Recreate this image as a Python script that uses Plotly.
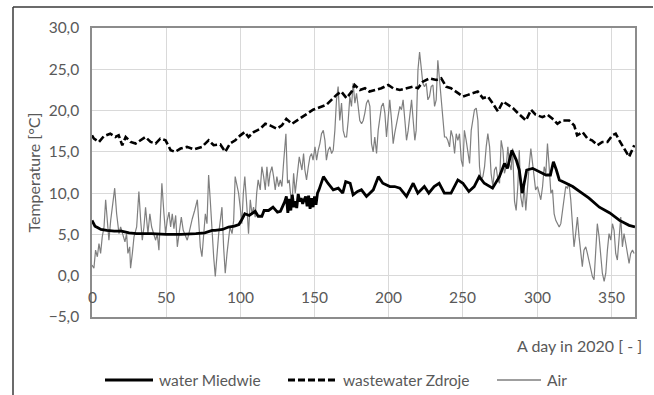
import plotly.graph_objects as go

# ---------------- data ----------------
x_ticks = [0, 50, 100, 150, 200, 250, 300, 350]
y_ticks = [-5, 0, 5, 10, 15, 20, 25, 30]

water_days = [
    0, 2, 4, 6, 10, 15, 20, 25, 30, 40,
    50, 60, 70, 76, 81, 83, 88, 92, 96, 99,
    101, 103, 106, 110, 112, 114.5, 116, 119, 122, 125,
    127, 129, 130, 131, 132, 133, 134, 135, 136, 137,
    138, 139, 140, 141, 142, 143, 144, 145, 146, 147,
    148, 149, 150, 151, 152, 153, 154, 156, 159, 162.6,
    166, 169, 171, 174, 176, 179, 181.6, 185, 189.6, 193,
    196, 200.8, 204, 207.5, 212, 216.5, 219.6, 224, 227, 230.6,
    234, 237.5, 242, 246.6, 250, 254, 257.6, 261, 264.4, 270,
    274.6, 278, 280, 283, 286, 288, 290, 293, 297, 301,
    306, 309, 311, 313, 315, 319.6, 324, 328.6, 335, 342,
    349, 355.6, 362, 366,
]
water_temp = [
    6.7, 6.0, 5.8, 5.6, 5.5, 5.4, 5.4, 5.2, 5.1, 5.1,
    5.0, 5.0, 5.1, 5.2, 5.5, 5.5, 5.6, 5.9, 6.0, 6.2,
    6.8, 7.5, 7.3, 7.8, 7.2, 7.2, 7.9, 7.9, 8.3, 7.7,
    7.8, 8.5, 9.0, 9.6, 7.6, 9.3, 7.9, 9.8, 8.3, 9.0,
    8.2, 9.9, 9.0, 9.4, 8.7, 9.2, 9.6, 8.4, 9.7, 8.1,
    9.4, 8.3, 9.6, 8.6, 10.0, 10.4, 11.0, 12.0, 11.2, 10.4,
    10.6, 10.0, 11.4, 11.2, 9.8, 10.2, 10.4, 9.6, 10.4, 12.0,
    11.2, 10.8, 10.8, 10.6, 9.6, 11.2, 10.0, 10.8, 10.0, 10.8,
    11.2, 10.0, 10.0, 11.6, 11.2, 10.2, 10.8, 12.0, 11.2, 10.6,
    12.0, 13.6, 13.0, 15.2, 14.0, 12.8, 10.0, 12.8, 13.0, 12.6,
    12.2, 12.2, 13.8, 12.8, 11.6, 11.2, 10.8, 10.2, 9.4, 8.3,
    7.6, 6.7, 6.1, 5.9,
]

waste_days = [
    0, 1.3, 4.7, 8, 12.3, 15.7, 18, 20.4, 22.7, 26,
    29.4, 32.8, 36, 39.5, 42.9, 46, 49.6, 53, 56, 59.7,
    64, 68.7, 74, 78.6, 82, 86.5, 89.8, 93, 96.6, 100,
    103, 105.5, 109, 113.4, 116.8, 120, 124.6, 128, 131, 134.8,
    138, 141.5, 145.8, 149, 153.6, 158, 161.4, 164.8, 168, 171.6,
    175, 177, 180.6, 184, 187, 190.7, 195, 199.7, 203, 207.5,
    212, 216.5, 219.7, 223, 227.5, 232, 235.4, 238.7, 242, 246.6,
    250, 253.4, 256.7, 260, 263.5, 266.8, 270, 273.6, 277, 280,
    283.7, 287, 290.4, 292.5, 296, 299, 303.6, 307, 310.4, 313.7,
    317, 321.6, 325, 327, 330.6, 334, 337, 340.7, 344, 347.4,
    350.8, 353, 355.4, 358.7, 362, 365.5,
]
waste_temp = [
    17.0, 16.6, 16.2, 16.9, 17.2, 16.8, 17.0, 15.8, 16.8, 16.2,
    16.0, 16.4, 16.8, 16.2, 16.0, 16.6, 16.4, 15.2, 15.0, 15.4,
    15.6, 15.3, 15.6, 16.4, 15.8, 15.9, 15.0, 16.0, 16.4, 17.0,
    17.4, 16.8, 17.4, 17.8, 18.4, 18.2, 17.8, 18.2, 19.0, 18.4,
    18.8, 19.2, 19.7, 20.1, 20.4, 20.7, 21.3, 21.9, 22.3, 21.5,
    22.3, 23.1, 22.5, 22.7, 22.3, 22.5, 22.7, 23.1, 22.7, 22.5,
    22.7, 22.9, 22.7, 23.5, 23.9, 23.7, 23.9, 22.9, 22.7, 22.1,
    21.7, 21.9, 22.1, 22.3, 21.5, 21.7, 20.9, 19.9, 21.1, 20.7,
    20.3, 19.7, 19.2, 18.8, 20.1, 19.5, 19.2, 19.5, 19.0, 18.4,
    18.8, 18.8, 18.2, 17.0, 17.4, 16.6, 16.4, 15.8, 16.2, 16.2,
    17.0, 17.2, 16.4, 15.4, 14.4, 15.8,
]

air_days = [
    0, 1.3, 2.4, 3.6, 4.7, 5.8, 6.9, 8.1, 9.2, 10.3,
    11.4, 12.6, 13.7, 15.3, 16.6, 18.2, 19.3, 21.1, 22.2, 23.3,
    24.2, 25.4, 26, 27.2, 28.3, 30.1, 31.6, 32.8, 33.9, 35,
    36.1, 37.7, 39, 40.2, 41.8, 42.9, 44, 45.1, 45.8, 47.1,
    48.5, 49.6, 50.7, 51.9, 53, 54.1, 55.2, 56.4, 57.5, 58.6,
    60.2, 61.5, 62.6, 64.2, 65.3, 66.5, 67.6, 69.2, 71, 71.9,
    73, 74.1, 75.2, 76.4, 77.5, 78.6, 79.7, 80.9, 82, 83.1,
    84.2, 85.4, 86.5, 87.6, 88.7, 89.8, 91, 92, 93, 94.4,
    95.5, 96.5, 97.7, 98.8, 99.9, 101, 102, 103, 104.4, 105.5,
    106.7, 107.8, 108.9, 110, 111, 112, 113.4, 114.5, 115.7, 116.8,
    117.9, 119, 120, 121.3, 122.4, 123.5, 124.6, 125.8, 126.9, 128,
    129.1, 130.7, 131.8, 132.9, 134.7, 135.9, 137, 138, 139.7, 141.5,
    142.6, 143.5, 144.6, 145.8, 146.9, 148, 149, 150.3, 151.4, 152.5,
    153.6, 154.7, 155.9, 157, 158, 159.2, 160.4, 161.5, 162.6, 163.7,
    164.8, 165.9, 167, 168.2, 169.3, 170.4, 171.6, 172.7, 173.8, 174.9,
    176, 177.2, 178.3, 179.4, 180.5, 181.7, 182.8, 183.9, 185, 186.2,
    187.3, 188.4, 189.5, 190.6, 191.8, 192.9, 194, 195.1, 196.3, 197.4,
    198.5, 199.6, 200.7, 201.9, 203, 204, 205.2, 206.3, 207.5, 208.6,
    209.7, 210.9, 212, 213.1, 214.2, 215.4, 216.5, 217.6, 218.5, 219.7,
    220.8, 221.9, 223, 224.1, 225.3, 226.4, 227.5, 228.6, 229.8, 230.9,
    232, 233.1, 234.2, 235.4, 236.5, 237.6, 238.7, 239.8, 241, 242,
    243.2, 244.4, 245.5, 246.6, 247.7, 248.9, 250, 251, 252.2, 253.4,
    254.5, 255.6, 256.7, 257.8, 259, 260.1, 261.2, 262.3, 263.5, 264.6,
    265.7, 266.8, 268, 269, 270.2, 271.3, 272.4, 273.6, 274.7, 275.8,
    277, 278, 279.2, 280.3, 281.4, 282.5, 283.5, 284.8, 285.9, 287,
    288, 289, 290.2, 291.3, 292.4, 293.5, 294.6, 295.8, 296.9, 298,
    299, 300.3, 301.4, 302.5, 303.7, 304.8, 305.9, 307, 308, 309.3,
    310.4, 311.5, 312.6, 313.8, 314.9, 316, 317, 318.2, 319.3, 320.4,
    321.5, 322.7, 323.8, 324.9, 326, 327.2, 328.3, 329.4, 330.5, 331.6,
    332.8, 333.9, 335, 336.1, 337.3, 338.4, 339.5, 340.6, 341.8, 342.9,
    344, 345.2, 346.3, 347.4, 348.5, 349.7, 350.8, 351.9, 353, 354.1,
    355.3, 356.4, 357.5, 358.6, 359.8, 360.9, 362, 363.1, 364.3, 365.4,
]
air_temp = [
    1.3, 0.9, 3.1, 2.3, 3.9, 2.7, 4.7, 5.9, 9.2, 6.7,
    4.3, 6.7, 8.3, 10.6, 7.5, 5.1, 5.9, 4.7, 4.1, 5.1,
    2.7, 3.5, 0.9, 2.7, 4.7, 5.9, 10.2, 6.7, 4.3, 5.9,
    8.3, 5.1, 7.5, 5.9, 5.1, 4.3, 5.1, 3.1, 5.9, 11.2,
    7.5, 5.1, 6.7, 7.7, 5.9, 7.5, 5.7, 7.3, 3.5, 5.1,
    7.1, 5.5, 4.9, 4.3, 5.1, 6.3, 6.9, 7.9, 9.2, 6.7,
    3.5, 2.3, 4.7, 7.5, 6.3, 12.2, 9.2, 4.7, 2.3, -0.1,
    2.7, 5.1, 6.7, 8.3, 3.5, 0.3, 2.7, 4.7, 5.9, 5.1,
    6.7, 12.0, 10.8, 10.0, 8.3, 6.3, 10.0, 12.0, 8.3, 5.1,
    9.2, 7.5, 8.3, 7.1, 10.0, 11.6, 10.4, 13.2, 12.0, 10.4,
    13.2, 10.8, 12.4, 13.2, 12.0, 10.4, 12.0, 10.8, 11.6, 10.8,
    13.6, 17.2, 11.2, 11.6, 8.3, 12.4, 10.0, 12.0, 14.4, 12.8,
    14.8, 12.8, 11.6, 13.2, 14.4, 14.8, 14.0, 15.6, 14.0, 15.2,
    16.0, 17.2, 17.6, 16.4, 14.0, 15.2, 15.6, 14.8, 15.2, 17.6,
    21.3, 22.9, 18.8, 20.9, 17.6, 16.8, 16.8, 18.8, 21.7, 20.5,
    23.3, 20.9, 22.1, 20.5, 18.8, 18.4, 18.8, 19.7, 20.9, 21.3,
    20.5, 16.0, 15.0, 16.8, 14.8, 17.6, 18.8, 20.5, 20.9, 19.7,
    16.8, 18.8, 21.3, 18.8, 16.0, 17.2, 18.4, 19.3, 20.5, 20.1,
    21.3, 18.8, 16.4, 17.6, 19.7, 21.3, 18.8, 16.4, 17.6, 24.9,
    27.1, 24.9, 23.3, 22.9, 23.3, 21.3, 21.7, 22.9, 23.1, 20.5,
    21.3, 26.1, 23.7, 21.3, 18.8, 16.8, 16.8, 16.4, 15.6, 17.6,
    16.8, 14.8, 17.2, 16.4, 17.2, 14.0, 13.2, 17.6, 16.4, 14.8,
    13.6, 17.6, 18.8, 20.1, 20.3, 18.8, 13.2, 11.6, 12.0, 13.2,
    15.6, 17.2, 15.6, 12.4, 10.8, 12.8, 13.2, 11.6, 11.2, 16.4,
    15.2, 12.4, 13.2, 15.6, 13.5, 12.8, 15.4, 9.0, 7.9, 10.8,
    15.2, 9.6, 8.3, 10.8, 7.9, 10.8, 13.2, 15.4, 13.2, 12.0,
    10.4, 10.8, 10.0, 9.2, 10.8, 13.2, 12.4, 16.0, 13.6, 10.0,
    10.4, 7.5, 6.7, 6.3, 5.9, 6.3, 7.9, 9.2, 10.8, 10.6,
    11.2, 9.2, 6.7, 3.5, 5.1, 7.1, 4.7, 2.7, 1.1, 3.1,
    3.5, 2.7, 1.9, 1.1, -0.1, -0.5, 2.7, 6.3, 4.7, 2.7,
    0.3, -0.7, 0.3, 3.1, 5.1, 4.3, 6.3, 5.5, 2.7, 1.9,
    4.7, 7.1, 3.5, 5.1, 3.9, 2.7, 1.5, 2.7, 3.1, 2.7,
]

series_names = ["water Miedwie", "wastewater Zdroje", "Air"]
y_title = "Temperature [°C]"
x_title = "A day in 2020 [ - ]"

# ---------------- layout geometry (pixels of the 654x395 canvas) ----------------
W, H = 654, 395
PL, PR, PT, PB = 92, 635, 28, 317          # plot area edges


def px(xp):
    return (xp - PL) / (PR - PL)


def py(yp):
    return (PB - yp) / (PB - PT)


TXT = "#595959"
FONT = "Lato, 'Open Sans', sans-serif"
FS = 15.5
FT = 16

fig = go.Figure()
fig.add_trace(go.Scatter(x=air_days, y=air_temp, mode="lines", name=series_names[2],
                         line=dict(color="#7f7f7f", width=1.2)))
fig.add_trace(go.Scatter(x=waste_days, y=waste_temp, mode="lines", name=series_names[1],
                         line=dict(color="#000000", width=2.6, dash="7px,3px")))
fig.add_trace(go.Scatter(x=water_days, y=water_temp, mode="lines", name=series_names[0],
                         line=dict(color="#000000", width=2.8)))

fig.update_layout(
    width=W, height=H,
    margin=dict(l=PL, r=W - PR, t=PT, b=H - PB),
    paper_bgcolor="white", plot_bgcolor="white",
    separators=",.",
    showlegend=False,
    font=dict(family=FONT, size=FS, color=TXT),
)
fig.update_xaxes(range=[0, 366], tickvals=x_ticks, showticklabels=False,
                 showgrid=True, gridcolor="#d9d9d9", gridwidth=1,
                 zeroline=False, showline=True, linecolor="#8c8c8c", linewidth=1.5,
                 mirror=True, ticks="")
fig.update_yaxes(range=[-5, 30], tickvals=y_ticks, tickformat=".1f",
                 showgrid=True, gridcolor="#d9d9d9", gridwidth=1,
                 zeroline=False, showline=True, linecolor="#8c8c8c", linewidth=1.5,
                 mirror=True, ticks="", ticklabelstandoff=8,
                 tickfont=dict(family=FONT, size=FS, color=TXT))

ann = []
# x tick labels placed inside the plot area, below the 0 line (Excel style)
for t in x_ticks:
    ann.append(dict(x=t, y=-2.6, xref="x", yref="y", text=str(t), showarrow=False,
                    font=dict(family=FONT, size=FS, color=TXT), xanchor="center", yanchor="middle"))
# axis titles
ann.append(dict(x=px(33), y=0.5, xref="paper", yref="paper", text=y_title, textangle=-90,
                showarrow=False, font=dict(family=FONT, size=FT, color=TXT),
                xanchor="center", yanchor="middle"))
ann.append(dict(x=px(644), y=py(345), xref="paper", yref="paper", text=x_title,
                showarrow=False, font=dict(family=FONT, size=FT, color=TXT),
                xanchor="right", yanchor="middle"))

# manual legend
LY = 380
legend_items = [
    (series_names[0], 105, 153, dict(color="#000000", width=3)),
    (series_names[1], 288, 337, dict(color="#000000", width=3, dash="7px,3px")),
    (series_names[2], 497, 541, dict(color="#7f7f7f", width=1.5)),
]
shapes = []
for name, x0, x1, ln in legend_items:
    shapes.append(dict(type="line", xref="paper", yref="paper", x0=px(x0), x1=px(x1),
                       y0=py(LY), y1=py(LY), line=ln))
    ann.append(dict(x=px(x1 + 4), y=py(LY), xref="paper", yref="paper", text=name,
                    showarrow=False, font=dict(family=FONT, size=FS, color=TXT),
                    xanchor="left", yanchor="middle"))

# outer chart frame (left and top edges visible)
shapes.append(dict(type="line", xref="paper", yref="paper", x0=px(13), x1=px(13),
                   y0=py(7), y1=py(400), line=dict(color="#3a3a3a", width=1.5)))
shapes.append(dict(type="line", xref="paper", yref="paper", x0=px(13), x1=px(653),
                   y0=py(7), y1=py(7), line=dict(color="#3a3a3a", width=1.5)))

fig.update_layout(annotations=ann, shapes=shapes)
fig.write_html("out.html")
